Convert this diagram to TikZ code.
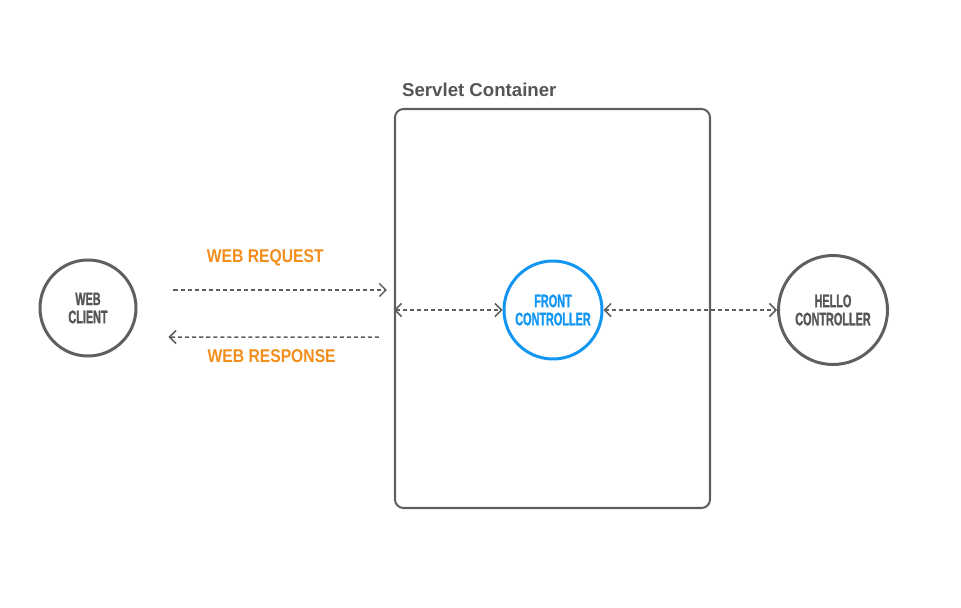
\documentclass[tikz,border=0pt]{standalone}
\usepackage{fontspec}
\usetikzlibrary{arrows.meta, positioning, calc}
\setmainfont{Liberation Sans}
\newfontfamily\narrowfont[FakeStretch=0.6, FakeBold=1.2]{Liberation Sans Bold}
\newfontfamily\msgfont[FakeStretch=0.85]{Liberation Sans}
\definecolor{linegray}{RGB}{95, 95, 95}
\definecolor{textgray}{RGB}{85, 85, 85}
\definecolor{frontblue}{RGB}{18, 150, 242}
\definecolor{msgorange}{RGB}{242, 142, 28}

\begin{document}
\begin{tikzpicture}[
        circ/.style={circle, draw=linegray, line width=1.7pt, align=center, inner sep=0pt,
            text=textgray, font={\narrowfont\fontsize{10.3}{10.3}\selectfont}},
        container/.style={rectangle, draw=linegray, line width=1.15pt, rounded corners=0.17cm,
            minimum width=6.3cm, minimum height=7.98cm},
        title/.style={text=textgray, font={\bfseries\fontsize{10.6}{12}\selectfont}},
        msg/.style={text=msgorange, font={\msgfont\bfseries\fontsize{10.5}{12}\selectfont}},
        arrow/.style={-{Straight Barb[length=1.3mm, width=2.6mm]}, line width=0.85pt,
            draw=linegray, dash pattern=on 2.3pt off 1.7pt},
        biarrow/.style={arrow, {Straight Barb[length=1.3mm, width=2.6mm]}-{Straight Barb[length=1.3mm, width=2.6mm]}}
    ]
        \useasboundingbox (0,0) rectangle (19.22,12.14);

        % Client and container
        \node[circ, minimum size=1.92cm] (webclient) at (1.76,5.98) {WEB\\CLIENT};
        \node[container] (servlet) at (11.05,5.97) {};
        \node[title, anchor=south west] (servlettitle) at ([xshift=0.04cm, yshift=0.1cm]servlet.north west) {Servlet Container};

        % Controllers
        \node[circ, draw=frontblue, text=frontblue, minimum size=1.96cm] (front) at (11.06,5.94) {FRONT\\CONTROLLER};
        \node[circ, minimum size=2.18cm] (hello) at (16.66,5.94) {HELLO\\CONTROLLER};

        % Request and response
        \draw[arrow] ([xshift=0.72cm, yshift=0.36cm]webclient.east) -- node[msg, pos=0.43, above=0.34cm] {WEB REQUEST} ([xshift=-0.14cm, yshift=0.37cm]servlet.west);
        \draw[arrow] ([xshift=-0.3cm, yshift=-0.57cm]servlet.west) -- node[msg, pos=0.51, below=0.12cm] {WEB RESPONSE} ([xshift=0.62cm, yshift=-0.58cm]webclient.east);

        % Dispatch
        \draw[biarrow] (servlet.west |- front.west) -- (front.west);
        \draw[biarrow] (front.east) -- (hello.west);
    \end{tikzpicture}
\end{document}
